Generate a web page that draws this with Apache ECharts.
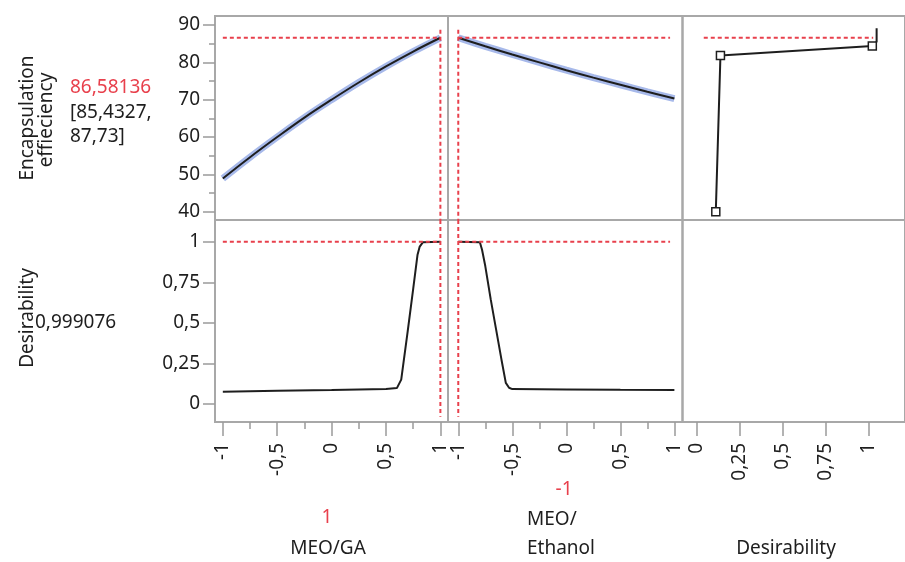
<!DOCTYPE html>
<html>
<head>
<meta charset="utf-8">
<script src="https://cdn.jsdelivr.net/npm/echarts@6/dist/echarts.min.js"></script>
<style>
    html, body { margin: 0; padding: 0; background: #fff; }
    #profiler { width: 905px; height: 562px; }
</style>
</head>
<body>
<div id="profiler"></div>
<script>
// current factor settings and the prediction at them
const meoGaSetting = 1
const meoEthanolSetting = -1
const predictedEff = 86.58136
const ciEff = ['85,4327', '87,73']
const desirabilityValue = '0,999076'

// prediction traces (coded factor units)
const factorX = [-1, -0.75, -0.5, -0.25, 0, 0.25, 0.5, 0.75, 1]
const effVsMeoGa = [48.9, 54.6, 60.0, 65.2, 70.0, 74.6, 78.9, 82.9, 86.58]
const effVsMeoEthanol = [86.58, 84.3, 82.1, 80.0, 77.9, 75.9, 74.0, 72.1, 70.3]

const desMeoGaX = [-1, -0.5, 0, 0.5, 0.6, 0.64, 0.7, 0.75, 0.79, 0.81, 0.84, 1]
const desMeoGaY = [0.076, 0.081, 0.086, 0.093, 0.098, 0.15, 0.45, 0.71, 0.92, 0.97, 0.997, 0.999]
const desMeoEthanolX = [-1, -0.8, -0.78, -0.75, -0.7, -0.65, -0.6, -0.56, -0.53, -0.5, 0, 0.5, 1]
const desMeoEthanolY = [0.999, 0.997, 0.95, 0.85, 0.646, 0.46, 0.273, 0.13, 0.1, 0.092, 0.09, 0.088, 0.087]

// desirability function of the response
const desFnD = [0.11, 0.137, 1.02, 1.045, 1.045]
const desFnEff = [40, 81.8, 84.4, 85.5, 89.1]
const desFnHandle = [true, true, true, false, false]

// ticks
const factorTicks = [-1, -0.5, 0, 0.5, 1]
const factorMinorTicks = [-0.75, -0.25, 0.25, 0.75]
const effTicks = [40, 50, 60, 70, 80, 90]
const effMinorTicks = [45, 55, 65, 75, 85]
const desTicks = [0, 0.25, 0.5, 0.75, 1]

const FONT = '"Noto Sans", "Open Sans", sans-serif'
const RED = '#e8404c'
const INK = '#1e1e1e'
const TICK = '#9a9a9a'

// axis extents so the ticks land where the panels show them
const xRange = [[-1.072, 1.07], [-1.095, 1.075], [-0.0836, 1.21]]
const effRange = [37.78, 92.41]
const desRange = [-0.1109, 1.1337]

const comma = v => String(v).replace('.', ',')

function panel(left, top, width, height) {
    return {
        left: left, top: top, width: width, height: height,
        show: true, borderColor: '#a8a8a8', borderWidth: 2,
        backgroundColor: 'transparent', containLabel: false
    }
}

function valueAxis(gridIndex, range, dim, opts) {
    opts = opts || {}
    return {
        type: 'value',
        gridIndex: gridIndex,
        min: range[0],
        max: range[1],
        position: dim === 'x' ? 'bottom' : 'left',
        axisLine: { show: false, onZero: false },
        splitLine: { show: false },
        axisTick: opts.ticks ? {
            show: true,
            length: opts.tickLen,
            customValues: opts.ticks,
            lineStyle: { color: TICK, width: 1.5 }
        } : { show: false },
        axisLabel: opts.labels ? {
            show: true,
            customValues: opts.labels,
            formatter: comma,
            rotate: dim === 'x' ? 90 : 0,
            margin: dim === 'x' ? 21 : 15,
            color: INK,
            fontSize: 19,
            fontFamily: FONT
        } : { show: false }
    }
}

function curve(xi, yi, xs, ys, color, width, z, smooth) {
    return {
        type: 'line',
        xAxisIndex: xi,
        yAxisIndex: yi,
        data: xs.map((x, i) => [x, ys[i]]),
        showSymbol: false,
        symbol: 'none',
        smooth: smooth || false,
        z: z,
        lineStyle: { color: color, width: width },
        silent: true
    }
}

function dashed(xi, yi, from, to) {
    return {
        type: 'line',
        xAxisIndex: xi,
        yAxisIndex: yi,
        data: [from, to],
        showSymbol: false,
        symbol: 'none',
        z: 10,
        lineStyle: { color: RED, width: 2, type: [4, 3] },
        silent: true
    }
}

const chart = echarts.init(document.getElementById('profiler'))

chart.setOption({
    animation: false,
    grid: [
        panel(215, 16, 233, 204),
        panel(448, 16, 234.5, 204),
        panel(682.5, 16, 240, 204),
        panel(215, 220, 233, 202),
        panel(448, 220, 234.5, 202),
        panel(682.5, 220, 240, 202)
    ],
    xAxis: [
        valueAxis(0, xRange[0], 'x'),
        valueAxis(1, xRange[1], 'x'),
        valueAxis(2, xRange[2], 'x'),
        valueAxis(3, xRange[0], 'x', { ticks: factorTicks, labels: factorTicks, tickLen: 14 }),
        valueAxis(4, xRange[1], 'x', { ticks: factorTicks, labels: factorTicks, tickLen: 14 }),
        valueAxis(5, xRange[2], 'x', { ticks: desTicks, labels: desTicks, tickLen: 14 }),
        valueAxis(3, xRange[0], 'x', { ticks: factorMinorTicks, tickLen: 7 }),
        valueAxis(4, xRange[1], 'x', { ticks: factorMinorTicks, tickLen: 7 })
    ],
    yAxis: [
        valueAxis(0, effRange, 'y', { ticks: effTicks, labels: effTicks, tickLen: 12 }),
        valueAxis(1, effRange, 'y'),
        valueAxis(2, effRange, 'y'),
        valueAxis(3, desRange, 'y', { ticks: desTicks, labels: desTicks, tickLen: 12 }),
        valueAxis(4, desRange, 'y'),
        valueAxis(5, desRange, 'y'),
        valueAxis(0, effRange, 'y', { ticks: effMinorTicks, tickLen: 6 })
    ],
    graphic: [
        { type: 'text', x: 28, y: 118, rotation: Math.PI / 2,
          style: { text: 'Encapsulation', fill: INK, font: '19px ' + FONT, align: 'center', verticalAlign: 'middle' } },
        { type: 'text', x: 47, y: 120, rotation: Math.PI / 2,
          style: { text: 'effieciency', fill: INK, font: '19px ' + FONT, align: 'center', verticalAlign: 'middle' } },
        { type: 'text', x: 70, y: 88,
          style: { text: comma(predictedEff), fill: RED, font: '19px ' + FONT, align: 'left', verticalAlign: 'middle' } },
        { type: 'text', x: 70, y: 113,
          style: { text: '[' + ciEff[0] + ',', fill: INK, font: '19px ' + FONT, align: 'left', verticalAlign: 'middle' } },
        { type: 'text', x: 70, y: 137,
          style: { text: ciEff[1] + ']', fill: INK, font: '19px ' + FONT, align: 'left', verticalAlign: 'middle' } },
        { type: 'text', x: 28, y: 318, rotation: Math.PI / 2,
          style: { text: 'Desirability', fill: INK, font: '19px ' + FONT, align: 'center', verticalAlign: 'middle' } },
        { type: 'text', x: 35, y: 323,
          style: { text: desirabilityValue, fill: INK, font: '19px ' + FONT, align: 'left', verticalAlign: 'middle' } },
        { type: 'text', x: 327, y: 518,
          style: { text: String(meoGaSetting), fill: RED, font: '19px ' + FONT, align: 'center', verticalAlign: 'middle' } },
        { type: 'text', x: 328, y: 549,
          style: { text: 'MEO/GA', fill: INK, font: '19px ' + FONT, align: 'center', verticalAlign: 'middle' } },
        { type: 'text', x: 564, y: 490,
          style: { text: String(meoEthanolSetting), fill: RED, font: '19px ' + FONT, align: 'center', verticalAlign: 'middle' } },
        { type: 'text', x: 527, y: 520,
          style: { text: 'MEO/', fill: INK, font: '19px ' + FONT, align: 'left', verticalAlign: 'middle' } },
        { type: 'text', x: 527, y: 549,
          style: { text: 'Ethanol', fill: INK, font: '19px ' + FONT, align: 'left', verticalAlign: 'middle' } },
        { type: 'text', x: 786, y: 549,
          style: { text: 'Desirability', fill: INK, font: '19px ' + FONT, align: 'center', verticalAlign: 'middle' } }
    ],
    series: [
        // confidence band + prediction, Encapsulation vs MEO/GA
        curve(0, 0, factorX, effVsMeoGa, '#a7b9ea', 7, 2, 0.4),
        curve(0, 0, factorX, effVsMeoGa, INK, 2, 3, 0.4),
        // Encapsulation vs MEO/Ethanol
        curve(1, 1, factorX, effVsMeoEthanol, '#a7b9ea', 7, 2, 0.4),
        curve(1, 1, factorX, effVsMeoEthanol, INK, 2, 3, 0.4),
        // desirability traces
        curve(3, 3, desMeoGaX, desMeoGaY, INK, 2, 3),
        curve(4, 4, desMeoEthanolX, desMeoEthanolY, INK, 2, 3),
        // desirability function
        {
            type: 'line',
            xAxisIndex: 2,
            yAxisIndex: 2,
            z: 4,
            symbol: 'rect',
            symbolSize: 8,
            lineStyle: { color: INK, width: 2 },
            itemStyle: { color: '#fff', borderColor: INK, borderWidth: 1.5 },
            data: desFnD.map((d, i) => desFnHandle[i]
                ? { value: [d, desFnEff[i]] }
                : { value: [d, desFnEff[i]], symbol: 'none' }),
            silent: true
        },
        // current settings crosshairs
        dashed(0, 0, [-1, predictedEff], [meoGaSetting, predictedEff]),
        dashed(0, 0, [meoGaSetting, 88.7], [meoGaSetting, effRange[0]]),
        dashed(3, 3, [-1, 1], [meoGaSetting, 1]),
        dashed(3, 3, [meoGaSetting, desRange[1]], [meoGaSetting, -0.078]),
        dashed(1, 1, [meoEthanolSetting, predictedEff], [0.96, predictedEff]),
        dashed(1, 1, [meoEthanolSetting, 88.7], [meoEthanolSetting, effRange[0]]),
        dashed(4, 4, [meoEthanolSetting, 1], [0.96, 1]),
        dashed(4, 4, [meoEthanolSetting, desRange[1]], [meoEthanolSetting, -0.078]),
        dashed(2, 2, [0.04, predictedEff], [1.025, predictedEff])
    ]
})
</script>
</body>
</html>
